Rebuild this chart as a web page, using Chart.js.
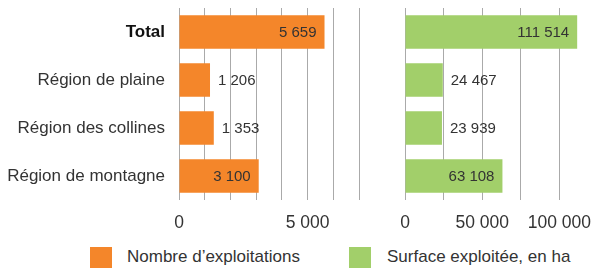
<!DOCTYPE html>
<html>
<head>
<meta charset="utf-8">
<script src="https://cdn.jsdelivr.net/npm/chart.js@4"></script>
<style>
    html, body { margin: 0; padding: 0; width: 594px; height: 268px; overflow: hidden; background: #fff; }
    body { position: relative; font-family: "Liberation Sans", Arial, sans-serif; color: #333; }
    #left { position: absolute; left: 0; top: 0; }
    #right { position: absolute; left: 395px; top: 0; }
    .key { position: absolute; top: 247px; width: 22px; height: 21px; }
    .key-label { position: absolute; top: 246px; font-size: 17px; line-height: 22px; white-space: nowrap; }
</style>
</head>
<body>
<canvas id="left" width="372" height="244"></canvas>
<canvas id="right" width="203" height="244"></canvas>

<div class="key" style="left: 90px; background: #F4862A;"></div>
<div class="key-label" style="left: 127px;">Nombre d’exploitations</div>
<div class="key" style="left: 349px; background: #A2CF6A;"></div>
<div class="key-label" style="left: 387px;">Surface exploitée, en ha</div>

<script>
// data
const categories = ["Total", "Région de plaine", "Région des collines", "Région de montagne"];
const exploitations = [5659, 1206, 1353, 3100];
const surface = [111514, 24467, 23939, 63108];
const leftTickLabels = [0, 5000];
const rightTickLabels = [0, 50000, 100000];

const FONT = "'Liberation Sans', Arial, sans-serif";
const GRID = "#aaaaaa";

function fmt(v) {
    return String(v).replace(/\B(?=(\d{3})+(?!\d))/g, " ");
}

// value labels: inside the bar end when there is room, else just after it
const barLabels = {
    id: "barLabels",
    afterDatasetsDraw(chart) {
        const ctx = chart.ctx;
        const values = chart.data.datasets[0].data;
        ctx.save();
        ctx.font = "15px " + FONT;
        ctx.fillStyle = "#333";
        ctx.textBaseline = "middle";
        chart.getDatasetMeta(0).data.forEach((bar, i) => {
            const text = fmt(values[i]);
            const tw = ctx.measureText(text).width;
            const w = bar.x - bar.base;
            if (w >= tw + 18) {
                ctx.textAlign = "right";
                ctx.fillText(text, bar.x - 8, bar.y + 1);
            } else {
                ctx.textAlign = "left";
                ctx.fillText(text, bar.x + 8, bar.y + 1);
            }
        });
        ctx.restore();
    },
};

function makeChart(id, values, color, max, step, shown, showCats, padLeft, padRight) {
    return new Chart(document.getElementById(id), {
        type: "bar",
        data: {
            labels: categories,
            datasets: [
                {
                    data: values,
                    backgroundColor: color,
                    borderWidth: 0,
                    categoryPercentage: 1,
                    barPercentage: 0.7,
                },
            ],
        },
        options: {
            indexAxis: "y",
            responsive: false,
            animation: false,
            events: [],
            layout: { padding: { top: 8, left: padLeft, right: padRight, bottom: 0 } },
            plugins: { legend: { display: false }, tooltip: { enabled: false } },
            scales: {
                x: {
                    min: 0,
                    max: max,
                    grid: { color: GRID, lineWidth: 1, drawTicks: false },
                    border: { display: false },
                    ticks: {
                        stepSize: step,
                        autoSkip: false,
                        maxRotation: 0,
                        padding: 13,
                        color: "#333",
                        font: { family: FONT, size: 17.5 },
                        callback: (v) => (shown.includes(v) ? fmt(v) : ""),
                    },
                    afterFit: (scale) => {
                        scale.height = 44;
                        scale.paddingLeft = 0;
                        scale.paddingRight = 0;
                    },
                },
                y: {
                    display: showCats,
                    grid: { display: false, drawTicks: false },
                    border: { display: false },
                    ticks: {
                        padding: 14,
                        color: (c) => (c.index === 0 ? "#111" : "#333"),
                        font: (c) => ({ family: FONT, size: 17, weight: c.index === 0 ? "bold" : "normal" }),
                    },
                    afterFit: (scale) => {
                        scale.width = showCats ? 179 : 0;
                        scale.paddingTop = 0;
                        scale.paddingBottom = 0;
                    },
                },
            },
        },
        plugins: [barLabels],
    });
}

makeChart("left", exploitations, "#F4862A", 7000, 1000, leftTickLabels, true, 0, 13);
makeChart("right", surface, "#A2CF6A", 125000, 25000, rightTickLabels, false, 10, 0);
</script>
</body>
</html>
